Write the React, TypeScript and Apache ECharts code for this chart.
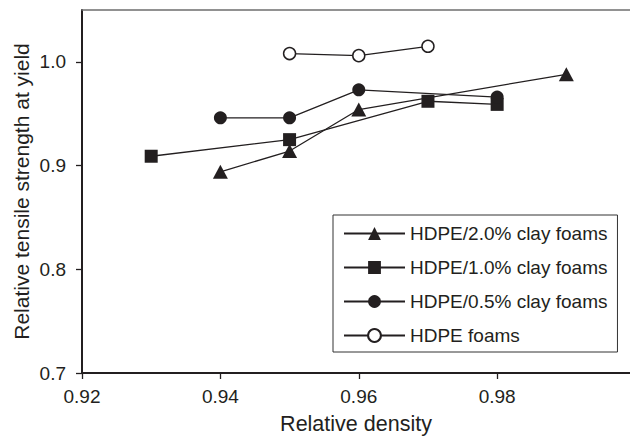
import React, { useEffect, useRef } from "react";
import * as echarts from "echarts";

// Relative density (x) vs relative tensile strength at yield (y)
const clay20: [number, number][] = [
  [0.94, 0.894],
  [0.95, 0.914],
  [0.96, 0.954],
  [0.99, 0.988],
];
const clay10: [number, number][] = [
  [0.93, 0.909],
  [0.95, 0.925],
  [0.97, 0.962],
  [0.98, 0.959],
];
const clay05: [number, number][] = [
  [0.94, 0.946],
  [0.95, 0.946],
  [0.96, 0.973],
  [0.98, 0.966],
];
const neat: [number, number][] = [
  [0.95, 1.008],
  [0.96, 1.006],
  [0.97, 1.015],
];

const seriesNames = [
  "HDPE/2.0% clay foams",
  "HDPE/1.0% clay foams",
  "HDPE/0.5% clay foams",
  "HDPE foams",
];

const xTicks = [0.92, 0.94, 0.96, 0.98];
const yTicks = [0.7, 0.8, 0.9, 1.0];

const INK = "#231f20";
const FONT = "'Liberation Sans', Arial, sans-serif";

export default function App() {
  const ref = useRef<HTMLDivElement>(null);

  useEffect(() => {
    document.body.style.margin = "0";
    if (!ref.current) return;
    const chart = echarts.init(ref.current, null, { renderer: "svg" });

    const lineSeries = (
      name: string,
      data: [number, number][],
      symbol: string,
      size: number | number[],
      open = false
    ) => ({
      name,
      type: "line",
      data,
      symbol,
      symbolSize: size,
      showAllSymbol: true,
      lineStyle: { color: INK, width: 1.3 },
      itemStyle: open
        ? { color: "#ffffff", borderColor: INK, borderWidth: 1.5 }
        : { color: INK, borderWidth: 0 },
      emphasis: { disabled: true },
      z: 2,
    });

    chart.setOption({
      animation: false,
      backgroundColor: "#ffffff",
      textStyle: { fontFamily: FONT },
      grid: {
        left: 82,
        right: 0,
        top: 10,
        bottom: 63,
        containLabel: false,
        outerBoundsMode: "none",
      },
      xAxis: [
        {
          type: "value",
          min: 0.92,
          max: 0.9992,
          interval: 0.02,
          name: "Relative density",
          nameLocation: "middle",
          nameGap: 40,
          nameMoveOverlap: false,
          nameTextStyle: { fontSize: 21.5, color: INK, fontFamily: FONT },
          splitLine: { show: false },
          axisLine: { show: true, onZero: false, lineStyle: { color: INK, width: 2 } },
          axisTick: {
            show: true,
            inside: false,
            length: 6,
            customValues: xTicks,
            lineStyle: { color: INK, width: 1.3 },
          },
          axisLabel: {
            customValues: xTicks,
            formatter: (v: number) => v.toFixed(2),
            fontSize: 19,
            color: INK,
            margin: 14,
            fontFamily: FONT,
          },
        },
        {
          type: "value",
          position: "top",
          min: 0.92,
          max: 0.9992,
          splitLine: { show: false },
          axisLine: { show: true, onZero: false, lineStyle: { color: "#6e6e6e", width: 1.5 } },
          axisTick: { show: false },
          axisLabel: { show: false },
        },
      ],
      yAxis: {
        type: "value",
        min: 0.7,
        max: 1.05,
        interval: 0.1,
        name: "Relative tensile strength at yield",
        nameLocation: "middle",
        nameGap: 50,
        nameMoveOverlap: false,
        nameTextStyle: { fontSize: 21, color: INK, fontFamily: FONT },
        splitLine: { show: false },
        axisLine: { show: true, onZero: false, lineStyle: { color: INK, width: 2 } },
        axisTick: {
          show: true,
          inside: false,
          length: 6,
          customValues: yTicks,
          lineStyle: { color: INK, width: 1.3 },
        },
        axisLabel: {
          customValues: yTicks,
          formatter: (v: number) => v.toFixed(1),
          fontSize: 19,
          color: INK,
          margin: 16,
          fontFamily: FONT,
        },
      },
      legend: {
        orient: "vertical",
        left: 333,
        top: 215,
        data: seriesNames,
        itemWidth: 61,
        itemHeight: 16,
        itemGap: 15,
        padding: [9, 10, 7, 10],
        borderColor: "#333333",
        borderWidth: 1,
        backgroundColor: "#ffffff",
        selectedMode: false,
        textStyle: { fontSize: 19, color: INK, fontFamily: FONT },
      },
      series: [
        lineSeries(seriesNames[0], clay20, "triangle", [15, 14]),
        lineSeries(seriesNames[1], clay10, "rect", 13),
        lineSeries(seriesNames[2], clay05, "circle", 13),
        lineSeries(seriesNames[3], neat, "circle", 12, true),
      ],
    });

    return () => chart.dispose();
  }, []);

  return (
    <div
      ref={ref}
      style={{ position: "absolute", left: 0, top: 0, width: 630, height: 436 }}
    />
  );
}
